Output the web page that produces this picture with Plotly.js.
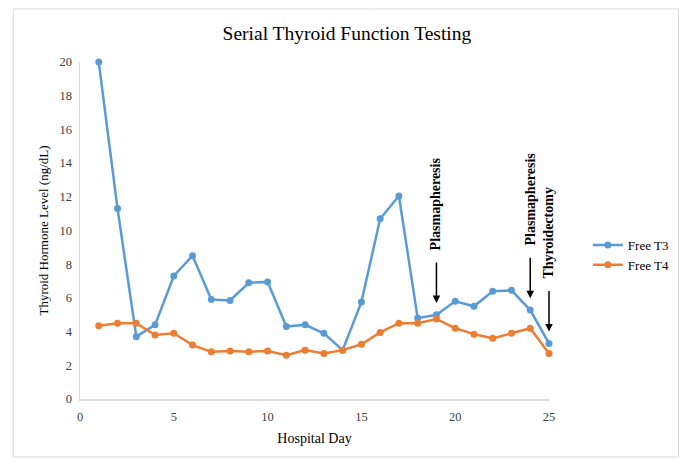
<!DOCTYPE html>
<html>
<head>
<meta charset="utf-8">
<script src="https://cdn.plot.ly/plotly-3.0.1.min.js"></script>
<style>html,body{margin:0;padding:0;background:#fff;}#chart{width:687px;height:459px;}</style>
</head>
<body>
<div id="chart"></div>
<script>
const hospitalDays = [1,2,3,4,5,6,7,8,9,10,11,12,13,14,15,16,17,18,19,20,21,22,23,24,25];
const freeT3 = [20,11.3,3.7,4.4,7.3,8.5,5.9,5.85,6.9,6.95,4.3,4.4,3.9,2.9,5.75,10.7,12.05,4.8,5.0,5.8,5.5,6.4,6.45,5.28,3.3];
const freeT4 = [4.35,4.5,4.5,3.8,3.9,3.2,2.8,2.85,2.8,2.85,2.6,2.9,2.7,2.9,3.25,3.95,4.5,4.5,4.75,4.2,3.85,3.6,3.9,4.2,2.7];
const eventDays = [19,24,25];
const eventLabels = ["Plasmapheresis","Plasmapheresis","Thyroidectomy"];
const seriesNames = ["Free T3","Free T4"];
const xTicks = [0,5,10,15,20,25];
const yTicks = [0,2,4,6,8,10,12,14,16,18,20];

const serif = "Liberation Serif";
const colors = ["#5B9BD5","#ED7D31"];

const traces = [freeT3, freeT4].map((vals,i)=>({
  x: hospitalDays, y: vals, name: seriesNames[i], type:'scatter', mode:'lines+markers',
  line:{color:colors[i], width:2.5}, marker:{color:colors[i], size:7}, cliponaxis:false
}));

const annotations = [];
eventDays.forEach((d,i)=>{
  const idx = hospitalDays.indexOf(d);
  const tipY = freeT3[idx] + 0.7;
  annotations.push({x:d, y:tipY, xref:'x', yref:'y', text:'', showarrow:true, ax:0, ay:-42,
    arrowhead:2, arrowsize:1, arrowwidth:1.5, arrowcolor:'#000'});
  annotations.push({x:d, y:tipY, xref:'x', yref:'y', text:'<b>'+eventLabels[i]+'</b>', showarrow:false,
    textangle:-90, yshift:99, xanchor:'center', yanchor:'middle',
    font:{family:serif, size:14, color:'#000'}});
});

const L=80, R=551, T=62, B=399;
const pw = R-L, ph = B-T;
const layout = {
  width:687, height:459,
  font:{family:serif, color:'#000'},
  margin:{l:L, r:687-R, t:T, b:459-B},
  paper_bgcolor:'#fff', plot_bgcolor:'#fff',
  title:{text:'Serial Thyroid Function Testing', x:0.505, xanchor:'center', y:1-33/459, yanchor:'middle',
    font:{family:serif, size:19.5, color:'#000'}},
  xaxis:{range:[0,25], tickvals:xTicks, showgrid:false, zeroline:false, showline:true, linecolor:'#d9d9d9', linewidth:1.5,
    ticks:'', ticklabelstandoff:5, tickfont:{family:serif, size:12.5, color:'#404040'},
    title:{text:'Hospital Day', font:{family:serif, size:14, color:'#000'}, standoff:10}},
  yaxis:{range:[0,20], tickvals:yTicks, showgrid:false, zeroline:false, showline:true, linecolor:'#d9d9d9', linewidth:1.5,
    ticks:'', ticklabelstandoff:4, tickfont:{family:serif, size:12.5, color:'#404040'},
    title:{text:'Thyroid Hormone Level (ng/dL)', font:{family:serif, size:13, color:'#000'}, standoff:8}},
  legend:{x:(590-L)/pw, xanchor:'left', y:(B-255)/ph, yanchor:'middle', font:{family:serif, size:13, color:'#000'},
    bgcolor:'rgba(0,0,0,0)', borderwidth:0},
  showlegend:true,
  annotations: annotations,
  shapes:[{type:'rect', xref:'paper', yref:'paper', x0:(13-L)/pw, x1:(681-L)/pw, y0:(B-457)/ph, y1:(B-9)/ph,
    line:{color:'#d9d9d9', width:1}, fillcolor:'rgba(0,0,0,0)', layer:'below'}]
};
Plotly.newPlot('chart', traces, layout, {displayModeBar:false, staticPlot:true});
</script>
</body>
</html>
